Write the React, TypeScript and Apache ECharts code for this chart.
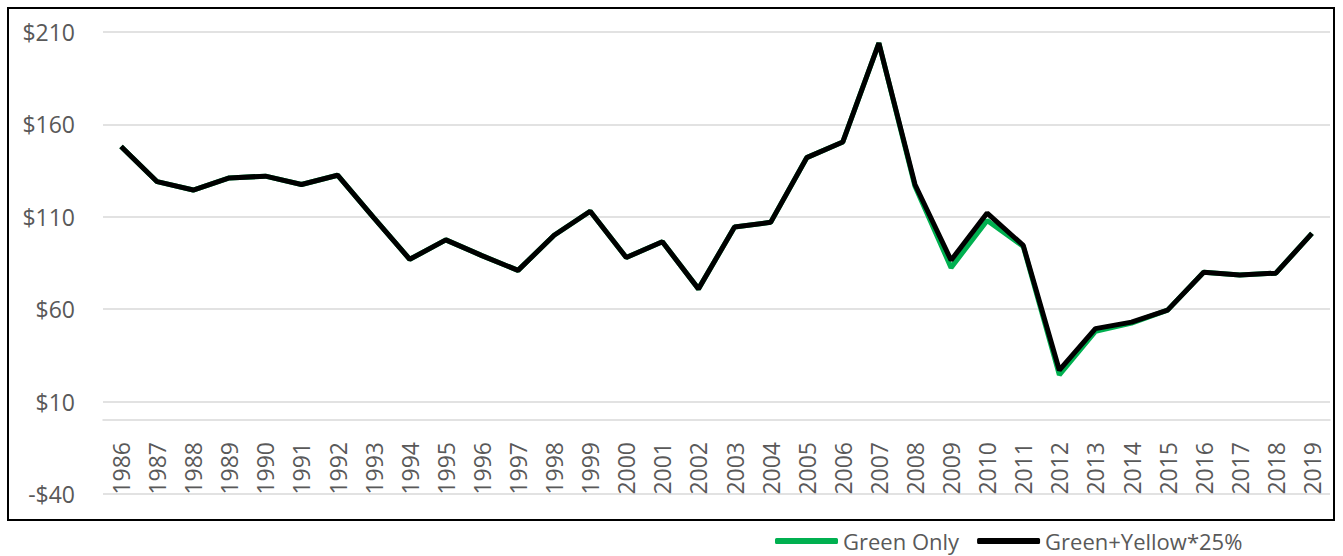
import React, { useEffect, useRef } from "react";
import * as echarts from "echarts";

const years = [
  "1986","1987","1988","1989","1990","1991","1992","1993","1994","1995","1996","1997",
  "1998","1999","2000","2001","2002","2003","2004","2005","2006","2007","2008","2009",
  "2010","2011","2012","2013","2014","2015","2016","2017","2018","2019",
];

const greenOnly = [
  148, 129, 124.5, 131, 132, 127.5, 132.5, 109.5, 87, 97.5, 89, 81,
  100, 113, 88, 96.5, 71, 104.5, 107, 142, 150.5, 204, 126.5, 82.5,
  108, 94, 24.5, 48, 52.5, 59.5, 80, 78.5, 79.5, 101,
];

const greenYellow = [
  148, 129, 124.5, 131, 132, 127.5, 132.5, 109.5, 87, 97.5, 89, 81,
  100, 113, 88, 96.5, 71, 104.5, 107, 142, 150.5, 204, 127.5, 86.5,
  112, 94.5, 27, 49.5, 53, 59.5, 80, 78.5, 79.5, 101,
];

const seriesNames = ["Green Only", "Green+Yellow*25%"];

export default function App() {
  const ref = useRef<HTMLDivElement>(null);

  useEffect(() => {
    if (!ref.current) return;
    const chart = echarts.init(ref.current, null, { renderer: "svg" });
    const font = "'Open Sans', sans-serif";
    chart.setOption({
      animation: false,
      backgroundColor: "#ffffff",
      grid: {
        left: 103,
        right: 13,
        top: 32,
        bottom: 62,
        containLabel: false,
        outerBoundsMode: "none",
      },
      legend: {
        left: 770,
        top: 525,
        itemWidth: 63,
        itemHeight: 6,
        itemGap: 18,
        icon: "roundRect",
        data: seriesNames,
        textStyle: { color: "#595959", fontSize: 22, fontFamily: font },
      },
      xAxis: {
        type: "category",
        data: years,
        boundaryGap: true,
        axisLine: { onZero: true, lineStyle: { color: "#d9d9d9", width: 1.5 } },
        axisTick: { show: false },
        axisLabel: {
          rotate: 90,
          margin: -52,
          interval: 0,
          color: "#595959",
          fontSize: 23,
          fontFamily: font,
        },
      },
      yAxis: {
        type: "value",
        min: -40,
        max: 210,
        interval: 50,
        axisLine: { show: false },
        axisTick: { show: false },
        splitLine: { lineStyle: { color: "#d9d9d9", width: 1.5 } },
        axisLabel: {
          margin: 28,
          color: "#595959",
          fontSize: 23,
          fontFamily: font,
          formatter: (v: number) => (v < 0 ? "-$" + Math.abs(v) : "$" + v),
        },
      },
      series: [
        {
          name: seriesNames[0],
          type: "line",
          data: greenOnly,
          symbol: "none",
          lineStyle: { color: "#00b050", width: 5 },
          itemStyle: { color: "#00b050" },
          z: 2,
        },
        {
          name: seriesNames[1],
          type: "line",
          data: greenYellow,
          symbol: "none",
          lineStyle: { color: "#000000", width: 5 },
          itemStyle: { color: "#000000" },
          z: 3,
        },
      ],
      graphic: [
        {
          type: "rect",
          shape: { x: 8, y: 8, width: 1326, height: 512 },
          style: { fill: "none", stroke: "#000000", lineWidth: 2 },
          silent: true,
        },
      ],
    });
    return () => chart.dispose();
  }, []);

  return (
    <div
      ref={ref}
      style={{ position: "fixed", left: 0, top: 0, width: 1343, height: 556 }}
    />
  );
}
